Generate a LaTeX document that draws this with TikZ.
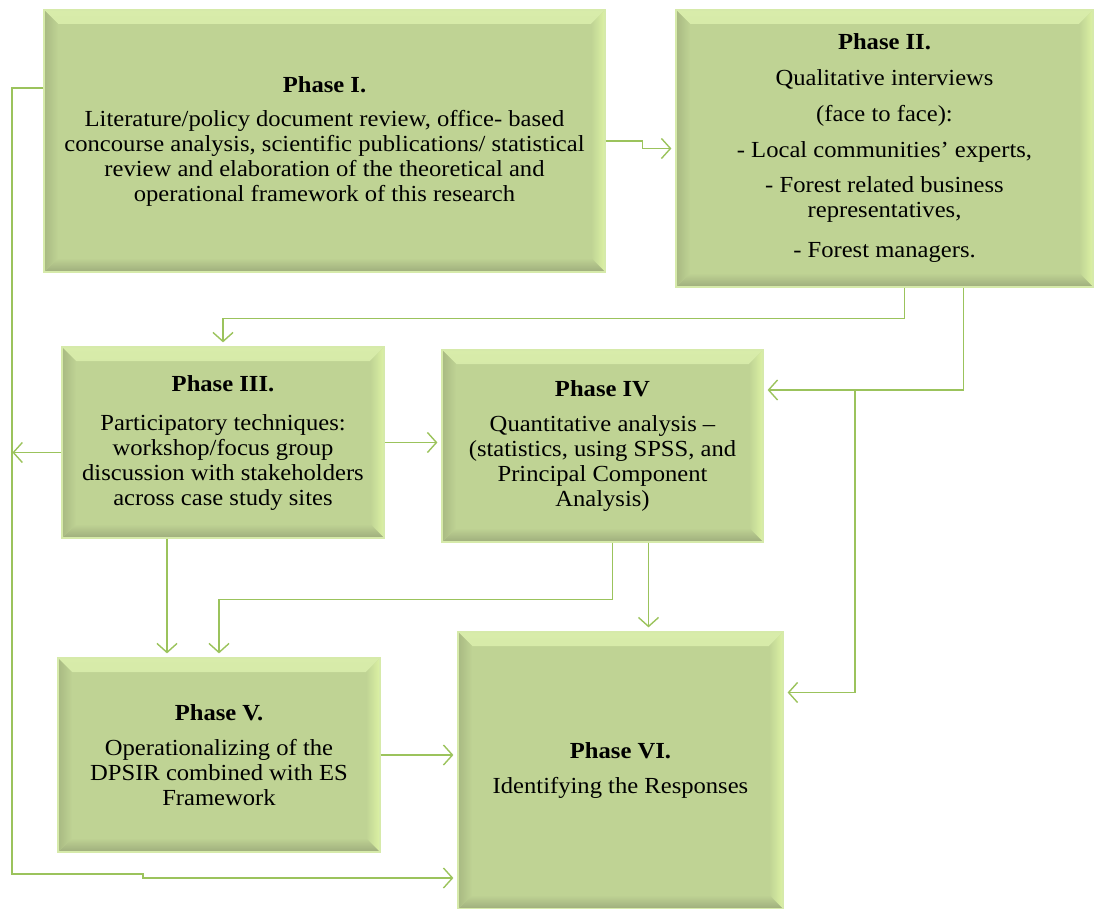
\documentclass[tikz,border=0pt]{standalone}
\usepackage{fontspec}
\setmainfont{Liberation Serif}[FakeStretch=1.07]
\usetikzlibrary{arrows.meta,calc,positioning}

\definecolor{phasefill}{RGB}{191,211,148}
\definecolor{phaseedge}{RGB}{214,234,170}
\definecolor{bevtop}{RGB}{216,236,170}
\definecolor{bevright}{RGB}{220,242,164}
\definecolor{bevbottom}{RGB}{158,173,124}
\definecolor{bevleft}{RGB}{168,185,130}
\definecolor{flowgreen}{RGB}{155,195,92}

\tikzset{
  phase/.style={draw=phaseedge, line width=1.2pt, fill=phasefill, align=center,
    inner sep=0pt, font=\fontsize{23}{25}\selectfont,
    path picture={
      \shade[top color=bevtop, bottom color=phasefill] (path picture bounding box.north west) -- (path picture bounding box.north east)
        -- ([shift={(-14pt,-14pt)}]path picture bounding box.north east)
        -- ([shift={(14pt,-14pt)}]path picture bounding box.north west) -- cycle;
      \shade[left color=phasefill, right color=bevright] (path picture bounding box.north east) -- (path picture bounding box.south east)
        -- ([shift={(-14pt,14pt)}]path picture bounding box.south east)
        -- ([shift={(-14pt,-14pt)}]path picture bounding box.north east) -- cycle;
      \shade[top color=phasefill, bottom color=bevbottom] (path picture bounding box.south east) -- (path picture bounding box.south west)
        -- ([shift={(14pt,14pt)}]path picture bounding box.south west)
        -- ([shift={(-14pt,14pt)}]path picture bounding box.south east) -- cycle;
      \shade[left color=bevleft, right color=phasefill] (path picture bounding box.south west) -- (path picture bounding box.north west)
        -- ([shift={(14pt,-14pt)}]path picture bounding box.north west)
        -- ([shift={(14pt,14pt)}]path picture bounding box.south west) -- cycle;
    }},
  flow/.style={draw=flowgreen, line width=1.4pt, -{Straight Barb[length=9pt,width=20pt]}, shorten >=4pt}
}

\begin{document}
\begin{tikzpicture}[x=1pt,y=-1pt]
\useasboundingbox (0,0) rectangle (1094,909);

% the six phases
\node[phase, minimum width=561pt, minimum height=262pt] (ph1) at (324.5,141)
  {\textbf{Phase I.}\\[9pt] Literature/policy document review, office- based\\
   concourse analysis, scientific publications/ statistical\\
   review and elaboration of the theoretical and\\
   operational framework of this research};
\node[phase, minimum width=417pt, minimum height=277pt] (ph2) at (884.5,148.5)
  {\textbf{Phase II.}\\[11pt] Qualitative interviews\\[11pt] (face to face):\\[11pt]
   - Local communities’ experts,\\[10pt] - Forest related business\\
   representatives,\\[15pt] - Forest managers.};
\node[phase, minimum width=322pt, minimum height=191pt] (ph3) at (223,442.5)
  {\textbf{Phase III.}\\[14pt] Participatory techniques:\\ workshop/focus group\\
   discussion with stakeholders\\ across case study sites};
\node[phase, minimum width=321pt, minimum height=192pt] (ph4) at (602.5,446)
  {\textbf{Phase IV}\\[10pt] Quantitative analysis --\\ (statistics, using SPSS, and\\
   Principal Component\\ Analysis)};
\node[phase, minimum width=322pt, minimum height=194pt] (ph5) at (219,755)
  {\textbf{Phase V.}\\[10pt] Operationalizing of the\\ DPSIR combined with ES\\ Framework};
\node[phase, minimum width=325pt, minimum height=277pt] (ph6) at (620.5,770.5)
  {\textbf{Phase VI.}\\[10pt] Identifying the Responses};

% connectors
\coordinate (branch) at (855,390);
\draw[flow] (ph1.east) -- ++(37,0) |- (ph2.west);
\draw[flow] ([yshift=53pt]ph1.west) -| (12,874) -- (143,874) -- (143,878) -- (ph6.west |- 0,878);
\draw[flow, shorten >=1pt] ([yshift=-10pt]ph3.west) -- ++(-50,0);
\draw[flow] ([xshift=20pt]ph2.south) -- ++(0,31) -| (ph3.north);
\draw[flow] ([xshift=79pt]ph2.south) |- ([yshift=56pt]ph4.east);
\draw[flow] (branch) |- ([yshift=78pt]ph6.east);
\draw[flow] (ph3.east) -- (ph3.east -| ph4.west);
\draw[flow] ([xshift=-56pt]ph3.south) -- ([xshift=-52pt]ph5.north);
\draw[flow] ([xshift=10pt]ph4.south) -- ++(0,57) -| (ph5.north);
\draw[flow] ([xshift=46pt]ph4.south) -- ([xshift=46pt]ph4.south |- ph6.north);
\draw[flow] (ph5.east) -- (ph5.east -| ph6.west);
\end{tikzpicture}
\end{document}
